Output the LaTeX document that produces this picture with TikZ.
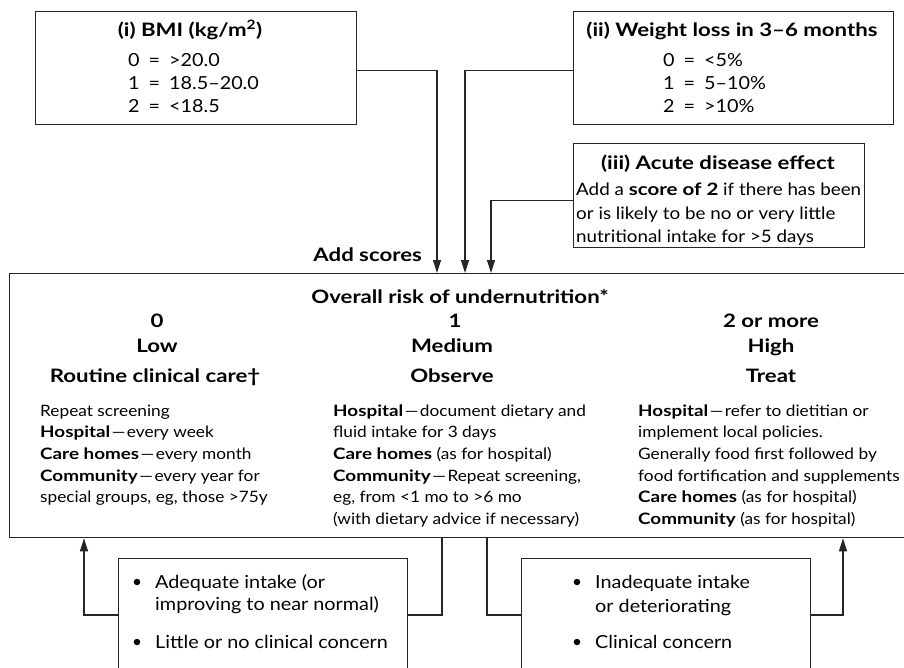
\documentclass[tikz,border=0pt]{standalone}
\usepackage{fontspec}
\setmainfont{Lato}[FakeStretch=1.1,BoldFeatures={FakeStretch=1.2}]
\usetikzlibrary{arrows.meta}
\newcommand{\dsh}{\kern1.5pt—\kern1.5pt}
\begin{document}
\begin{tikzpicture}[x=1pt,y=-1pt,
  box/.style={draw=black!85,line width=1.3pt,inner sep=0pt,anchor=north west},
  conn/.style={draw=black!85,line width=1.3pt},
  arr/.style={conn,-{Triangle[length=13pt,width=8pt]}},
  hd/.style={font=\bfseries\fontsize{18.5}{22}\selectfont,inner sep=0pt,anchor=base},
  tb/.style={font=\fontsize{18}{22.8}\selectfont,inner sep=0pt,align=left,anchor=north west},
  bd/.style={font=\fontsize{15.7}{21.7}\selectfont,inner sep=0pt,align=left,anchor=north west},
  bt/.style={font=\fontsize{18}{22.5}\selectfont,inner sep=0pt,align=left,anchor=north west},
  bul/.style={circle,fill=black,inner sep=0pt,minimum size=6.5pt},
]
\useasboundingbox (0,0) rectangle (904,667);
\clip (0,0) rectangle (904,667);

% boxes
\node[box,minimum width=321pt,minimum height=113pt] (bmi) at (35,11) {};
\node[box,minimum width=320pt,minimum height=113pt] (wl) at (573,11) {};
\node[box,minimum width=291pt,minimum height=104pt] (ad) at (573,143) {};
\node[box,minimum width=901pt,minimum height=264pt] (main) at (9,273) {};
\node[box,minimum width=289pt,minimum height=130pt] (lb) at (118,558) {};
\node[box,minimum width=289pt,minimum height=130pt] (rb) at (521,558) {};

% box (i)
\node[hd] (bmih) at (190,36) {(i) BMI (kg/m\textsuperscript{2})};
\node[tb] (bmib) at (128,50.5) {\strut 0\enspace=\enspace>20.0\\1\enspace=\enspace18.5–20.0\\2\enspace=\enspace<18.5};

% box (ii)
\node[hd] (wlh) at (732,36) {(ii) Weight loss in 3–6 months};
\node[tb] (wlb) at (663,50.5) {\strut 0\enspace=\enspace<5\%\\1\enspace=\enspace5–10\%\\2\enspace=\enspace>10\%};

% box (iii)
\node[hd] (adh) at (718,169) {(iii) Acute disease effect};
\node[tb,font=\fontsize{17.1}{23.5}\selectfont] (adb) at (576,179) {\strut Add a \textbf{score of 2} if there has been\\or is likely to be no or very little\\nutritional intake for >5 days};

% connectors top
\coordinate (c1) at (437,0);
\coordinate (c2) at (465,0);
\coordinate (c3) at (491,0);
\draw[arr] ([yshift=-2.5pt]bmi.east) -| (main.north -| c1);
\draw[arr] ([yshift=-2.5pt]wl.west) -| (main.north -| c2);
\draw[arr] ([yshift=-5pt]ad.west) -| (main.north -| c3);
\node[hd,anchor=base east] (adds) at (422,261) {Add scores};

% main box headings
\node[hd] (ov) at (460,303) {Overall risk of undernutrition*};
\node[hd] (s0) at (157,327) {0};
\node[hd] (s1) at (455,327) {1};
\node[hd] (s2) at (771,327) {2 or more};
\node[hd] (r0) at (157,352) {Low};
\node[hd] (r1) at (452,352) {Medium};
\node[hd] (r2) at (771,352) {High};
\node[hd] (a0) at (155,382) {Routine clinical care†};
\node[hd] (a1) at (452,382) {Observe};
\node[hd] (a2) at (771,382) {Treat};

% main box body
\node[bd] (col1) at (40,400.8) {\strut Repeat screening\\
\textbf{Hospital}\dsh every week\\
\textbf{Care homes}\dsh every month\\
\textbf{Community}\dsh every year for\\
special groups, eg, those >75y};
\node[bd] (col2) at (333,400.8) {\strut\textbf{Hospital}\dsh document dietary and\\
fluid intake for 3 days\\
\textbf{Care homes} (as for hospital)\\
\textbf{Community}\dsh Repeat screening,\\
eg, from <1 mo to >6 mo\\
(with dietary advice if necessary)};
\node[bd] (col3) at (638,400.8) {\strut\textbf{Hospital}\dsh refer to dietitian or\\
implement local policies.\\
Generally food first followed by\\
food fortification and supplements\\
\textbf{Care homes} (as for hospital)\\
\textbf{Community} (as for hospital)};

% bottom boxes text
\node[bul] (lb1) at (137,582) {};
\node[bt] (lt1) at (155,572.3) {\strut Adequate intake (or\\improving to near normal)};
\node[bul] (lb2) at (137,642) {};
\node[bt,anchor=base west] (lt2) at (155,648) {Little or no clinical concern};
\node[bul] (rb1) at (577,582) {};
\node[bt,font=\fontsize{18}{24}\selectfont] (rt1) at (595,571.2) {\strut Inadequate intake\\or deteriorating};
\node[bul] (rb2) at (577,642) {};
\node[bt,anchor=base west] (rt2) at (595,648) {Clinical concern};

% bottom connectors
\coordinate (j1) at (84,615);
\coordinate (j2) at (442,615);
\coordinate (j3) at (487,615);
\coordinate (j4) at (843,615);
\draw[arr] (lb.west |- j1) -| (main.south -| j1);
\draw[conn] (main.south -| j2) |- (lb.east |- j2);
\draw[conn] (main.south -| j3) |- (rb.west |- j3);
\draw[arr] (rb.east |- j4) -| (main.south -| j4);
\end{tikzpicture}
\end{document}
